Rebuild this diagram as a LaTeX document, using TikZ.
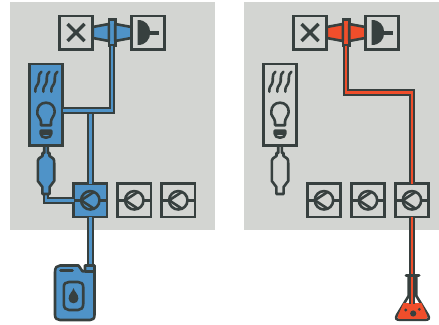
\documentclass[tikz,border=0pt]{standalone}
\definecolor{panel}{HTML}{D3D5D2}
\definecolor{ink}{HTML}{37403F}
\definecolor{oil}{HTML}{4F93C8}
\definecolor{acid}{HTML}{F04E2B}
\tikzset{
  ln/.style={draw=ink,line width=2.6pt},
  sq/.style={ln,rectangle,minimum width=33.4pt,minimum height=33.4pt,inner sep=0pt,outer sep=0pt},
  lamp/.style={ln,rectangle,minimum width=33.1pt,minimum height=81.4pt,inner sep=0pt,outer sep=0pt},
  valve/.style={ln,rectangle,minimum width=6.4pt,minimum height=26.1pt,inner sep=0pt,outer sep=0pt},
  pipeline/.style={draw=ink,line width=2.2pt,double distance=2.5pt,miter limit=10},
  oilpipe/.style={pipeline,double=oil},
  acidpipe/.style={pipeline,double=acid},
  thin/.style={ln,line cap=round}
}
\newcommand{\xcross}[1]{\draw[draw=ink,line width=3.4pt] ([shift={(-8.5,-8.5)}]#1.center) -- ([shift={(8.5,8.5)}]#1.center)
   ([shift={(-8.5,8.5)}]#1.center) -- ([shift={(8.5,-8.5)}]#1.center);}
\newcommand{\plugsym}[1]{%
   \fill[ink] ([shift={(-10.3,-12.5)}]#1.center) .. controls +(8,0) and +(0,-7) .. ([shift={(2.2,0)}]#1.center) .. controls +(0,7) and +(8,0) .. ([shift={(-10.3,12.5)}]#1.center) -- cycle;
   \draw[draw=ink,line width=4pt] ([shift={(0,0)}]#1.center) -- ([shift={(11,0)}]#1.center);}
\newcommand{\pumpsym}[1]{\draw[ln] (#1.center) circle[radius=9.2pt];
   \draw[ln] (#1.west) -- ([shift={(-9.2,0)}]#1.center) (#1.east) -- ([shift={(9.2,0)}]#1.center);
   \draw[ln] ([shift={(3.5,8.3)}]#1.center) -- ([shift={(-9.2,0)}]#1.center) -- ([shift={(3.5,-8.3)}]#1.center);}
\newcommand{\heatsym}[1]{%
  \foreach \d in {-8,0,8}{
   \draw[thin] ([shift={(\d+3.4,-33)}]#1.center) .. controls ([shift={(\d-1,-30)}]#1.center) and ([shift={(\d+2,-24)}]#1.center) .. ([shift={(\d+0,-21)}]#1.center) .. controls ([shift={(\d-1.5,-19)}]#1.center) and ([shift={(\d-3,-17)}]#1.center) .. ([shift={(\d-2.6,-13)}]#1.center);
  }
  \draw[ln,line join=round] ([shift={(-5,20.5)}]#1.center) -- ([shift={(-5,17)}]#1.center) .. controls +(0,-3.5) and +(-1,4) .. ([shift={(-8.7,7)}]#1.center) .. controls +(0,-5.5) and +(-5,0) .. ([shift={(0,-2)}]#1.center) .. controls +(5,0) and +(0,-5.5) .. ([shift={(8.7,7)}]#1.center) .. controls +(0,4) and +(0,-3.5) .. ([shift={(5,17)}]#1.center) -- ([shift={(5,20.5)}]#1.center) -- cycle;
  \draw[ln,line join=round] ([shift={(-5.3,26)}]#1.center) -- ([shift={(5.3,26)}]#1.center) -- ([shift={(5.3,29)}]#1.center) .. controls +(0,2.5) and +(3,0) .. ([shift={(0,33)}]#1.center) .. controls +(-3,0) and +(0,2.5) .. ([shift={(-5.3,29)}]#1.center) -- cycle;
  \draw[ln] ([shift={(-5.3,29)}]#1.center) -- ([shift={(5.3,29)}]#1.center);
}
\newcommand{\accu}[2]{%
  \draw[ln,fill=#2,line join=round] ([shift={(-1.8,0)}]#1) -- ([shift={(-1.8,6)}]#1) -- ([shift={(-3.5,6)}]#1) -- ([shift={(-3.5,9)}]#1)
    -- ([shift={(-7.2,11.5)}]#1) .. controls ([shift={(-8.2,12.5)}]#1) and ([shift={(-8.2,14)}]#1) .. ([shift={(-8.2,16)}]#1) -- ([shift={(-8.2,34)}]#1)
    -- ([shift={(-3.6,40)}]#1) -- ([shift={(-3.6,47)}]#1) -- ([shift={(3.6,47)}]#1) -- ([shift={(3.6,40)}]#1)
    -- ([shift={(8.2,34)}]#1) -- ([shift={(8.2,16)}]#1) .. controls ([shift={(8.2,14)}]#1) and ([shift={(8.2,12.5)}]#1) .. ([shift={(7.2,11.5)}]#1) -- ([shift={(3.5,9)}]#1) -- ([shift={(3.5,6)}]#1) -- ([shift={(1.8,6)}]#1) -- ([shift={(1.8,0)}]#1);
}
\begin{document}
\begin{tikzpicture}[x=1pt,y=-1pt]
\useasboundingbox (0,0) rectangle (439,324);
\fill[panel] (10,2) rectangle (215,230);
\fill[panel] (244,2) rectangle (439,230);

% ---------- left system
\node[sq] (xL) at (76,32.5) {};
\node[sq] (pL) at (148,32.5) {};
\node[valve,fill=oil] (vL) at (112,32.5) {};
\xcross{xL}\plugsym{pL}
\draw[ln,fill=oil,line join=round] (xL.east |- 0,27) -- (vL.west |- 0,24) -- (vL.west |- 0,41) -- (xL.east |- 0,38) -- cycle;
\draw[ln,fill=oil,line join=round] (pL.west |- 0,27) -- (vL.east |- 0,24) -- (vL.east |- 0,41) -- (pL.west |- 0,38) -- cycle;
\node[lamp,fill=oil] (hL) at (46,104.7) {};
\heatsym{hL}
\node[sq,fill=oil] (p1L) at (90.3,200.3) {};
\node[sq] (p2L) at (134.3,200.3) {};
\node[sq] (p3L) at (178.3,200.3) {};
\pumpsym{p1L}\pumpsym{p2L}\pumpsym{p3L}
\coordinate (jL) at (90.3,110.6);
\coordinate (aLtop) at (46,147);
\coordinate (aLbot) at (46,193);
\draw[oilpipe] (jL) -- (p1L.north);
\draw[oilpipe] (vL.south) |- (hL.east |- jL);
\draw[oilpipe] (aLbot) |- (p1L.west);
\accu{aLtop}{oil}
% jug
\node[minimum size=0pt,inner sep=0pt] (jugL) at (74,266) {};
\draw[oilpipe] (p1L.south) -- (p1L.south |- jugL.north);
\draw[ln,fill=oil,line join=round] (55,272) .. controls (55,267.5) and (57,265.5) .. (60,265.5) -- (78.5,265.5) -- (82.5,271.3) -- (85,271.3) -- (85,265.5) -- (94.5,265.5) -- (94.5,315) .. controls (94.5,318.5) and (93,320) .. (90,320) -- (60,320) .. controls (57,320) and (55,318.5) .. (55,315) -- cycle;
\draw[ln] (85,271.3) -- (94.5,271.3);
\draw[ln,line cap=round] (60.5,270.6) -- (72.5,270.6);
\draw[ln,fill=oil] (63.8,287) .. controls (63.8,283.5) and (66,282) .. (69,282) -- (78,282) .. controls (81,282) and (83.2,283.5) .. (83.2,287) -- (83.2,304) .. controls (83.2,308) and (81,310) .. (78,310) -- (69,310) .. controls (66,310) and (63.8,308) .. (63.8,304) -- cycle;
\fill[ink] (73.5,288) .. controls (74.5,292) and (78.4,294) .. (78.4,298.5) .. controls (78.4,301.5) and (76.3,303.3) .. (73.5,303.3) .. controls (70.7,303.3) and (68.6,301.5) .. (68.6,298.5) .. controls (68.6,294) and (72.5,292) .. (73.5,288) -- cycle;

% ---------- right system
\node[sq] (xR) at (310,32.5) {};
\node[sq] (pR) at (382,32.5) {};
\node[valve,fill=acid] (vR) at (346,32.5) {};
\xcross{xR}\plugsym{pR}
\draw[ln,fill=acid,line join=round] (xR.east |- 0,27) -- (vR.west |- 0,24) -- (vR.west |- 0,41) -- (xR.east |- 0,38) -- cycle;
\draw[ln,fill=acid,line join=round] (pR.west |- 0,27) -- (vR.east |- 0,24) -- (vR.east |- 0,41) -- (pR.west |- 0,38) -- cycle;
\node[lamp] (hR) at (280,104.7) {};
\heatsym{hR}
\node[sq] (p1R) at (324,200.3) {};
\node[sq] (p2R) at (368,200.3) {};
\node[sq] (p3R) at (412,200.3) {};
\pumpsym{p1R}\pumpsym{p2R}\pumpsym{p3R}
\coordinate (aRtop) at (280,147);
\accu{aRtop}{panel}
\coordinate (jR) at (346,92.7);
\draw[acidpipe] (vR.south) |- (p3R.north |- jR) -- (p3R.north);
% flask
\draw[ln,fill=white] (408.6,276) -- (408.6,296) -- (397,315) .. controls (395,318.5) and (396.5,319.8) .. (399.5,319.8) -- (425.5,319.8) .. controls (428.5,319.8) and (430,318.5) .. (428,315) -- (416.4,296) -- (416.4,276);
\fill[acid] (403.5,303) -- (421.5,303) -- (427,315.5) .. controls (428,318) and (427.5,318.8) .. (425.5,318.8) -- (399.5,318.8) .. controls (397.5,318.8) and (397,318) .. (398,315.5) -- cycle;
\draw[acidpipe] (p3R.south) -- (p3R.south |- 0,304);
\draw[draw=ink,line width=3pt,line cap=round] (406,275.5) -- (419,275.5);
\fill[ink] (413.2,313.5) circle[radius=3.1pt];
\fill[ink] (405.7,310) circle[radius=1.6pt];
\fill[ink] (419.3,309.3) circle[radius=1.6pt];
\end{tikzpicture}
\end{document}
